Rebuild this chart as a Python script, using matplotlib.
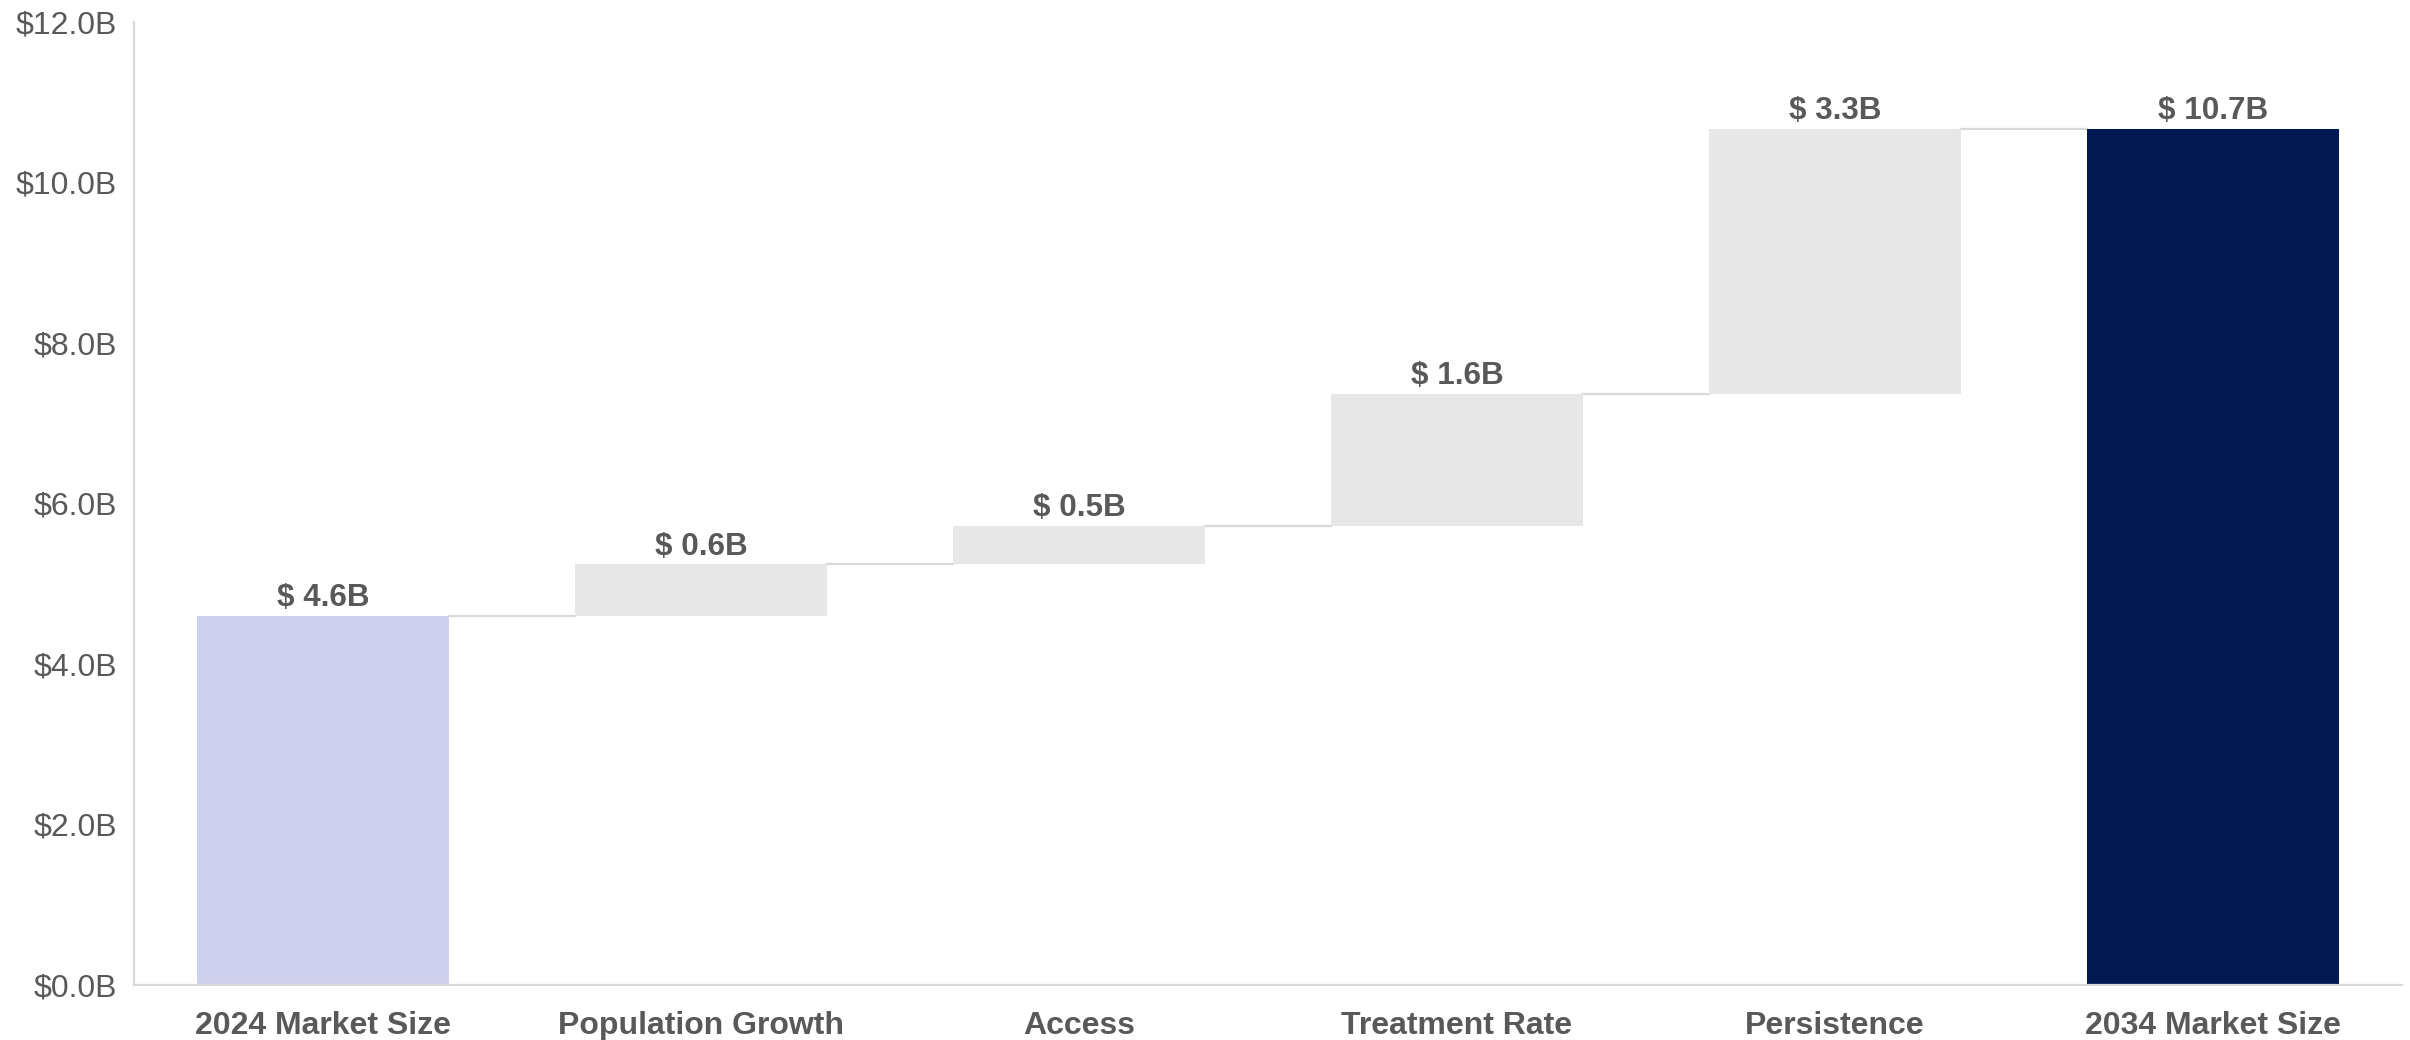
import matplotlib.pyplot as plt

plt.rcParams['font.family'] = ['Liberation Sans', 'DejaVu Sans']

# waterfall steps, in $B
categories = ['2024 Market Size', 'Population Growth', 'Access',
              'Treatment Rate', 'Persistence', '2034 Market Size']
start_value = 4.60
increments = [0.64, 0.48, 1.64, 3.31]
end_value = start_value + sum(increments)

y_ticks = [0, 2, 4, 6, 8, 10, 12]

text_grey = '#595959'
line_grey = '#D9D9D9'
colors = ['#CFD0EE'] + ['#E7E7E7'] * len(increments) + ['#021850']

# build bottoms / heights for every bar
bottoms = [0]
heights = [start_value]
running = start_value
for inc in increments:
    bottoms.append(running)
    heights.append(inc)
    running += inc
bottoms.append(0)
heights.append(end_value)

fig = plt.figure(figsize=(12.05, 5.2), dpi=200)
ax = fig.add_axes([0.0556, 0.053, 0.941, 0.926])

x = list(range(len(categories)))
width = 2 / 3
ax.bar(x, heights, bottom=bottoms, width=width, color=colors, zorder=2)

# connectors between consecutive bars
for i in range(len(categories) - 1):
    level = bottoms[i] + heights[i]
    ax.plot([i + width / 2, i + 1 - width / 2], [level, level],
            color=line_grey, lw=0.8, zorder=1)

# value labels
for i, (b, h) in enumerate(zip(bottoms, heights)):
    ax.annotate(f'$ {h:.1f}B', (i, b + h), xytext=(0, 1), textcoords='offset points',
                ha='center', va='bottom', fontsize=11.3, fontweight='bold',
                color=text_grey)

ax.set_xlim(-0.5, len(categories) - 0.5)
ax.set_ylim(0, 12)
ax.set_yticks(y_ticks)
ax.set_yticklabels([f'${v:.1f}B' for v in y_ticks])
ax.set_xticks(x)
ax.set_xticklabels(categories, fontweight='bold')

ax.tick_params(axis='y', length=0, labelsize=11.5, labelcolor=text_grey, pad=6)
ax.tick_params(axis='x', length=0, labelsize=11.5, labelcolor=text_grey, pad=9.5)

for side in ['top', 'right']:
    ax.spines[side].set_visible(False)
for side in ['left', 'bottom']:
    ax.spines[side].set_color(line_grey)
    ax.spines[side].set_linewidth(0.8)

fig.savefig('out.png', dpi=200)
